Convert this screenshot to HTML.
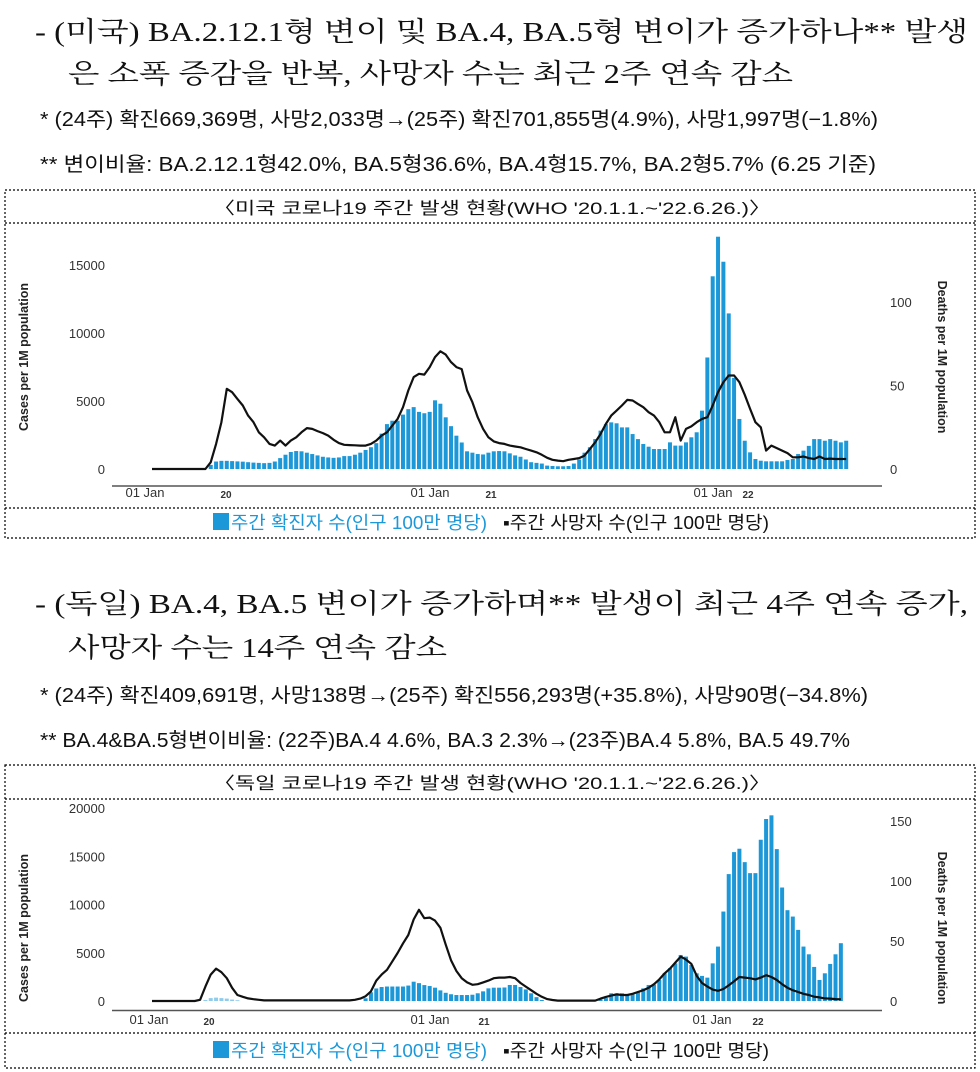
<!DOCTYPE html>
<html><head><meta charset="utf-8">
<style>
html,body{margin:0;padding:0;background:#fff;}
svg{display:block;}
.h{font-family:"Liberation Serif","Noto Serif CJK SC","Noto Sans CJK KR",serif;font-size:27px;fill:#111;}
.n{font-family:"Liberation Sans","Noto Sans CJK KR",sans-serif;font-size:20px;fill:#111;}
.ct{font-family:"Liberation Sans","Noto Sans CJK KR",sans-serif;font-size:17px;fill:#111;}
.tk{font-family:"Liberation Sans",sans-serif;font-size:13px;fill:#333;}
.yr{font-family:"Liberation Sans",sans-serif;font-size:10px;font-weight:bold;fill:#333;}
.at{font-family:"Liberation Sans",sans-serif;font-size:12.5px;font-weight:bold;fill:#222;}
.lg{font-family:"Liberation Sans","Noto Sans CJK KR",sans-serif;font-size:18px;}
</style></head>
<body>
<svg id="page" width="980" height="1072" viewBox="0 0 980 1072" xmlns="http://www.w3.org/2000/svg">
<text class="h" x="35" y="41" textLength="933" lengthAdjust="spacingAndGlyphs">- (미국) BA.2.12.1형 변이 및 BA.4, BA.5형 변이가 증가하나** 발생</text>
<text class="h" x="68" y="83" textLength="725" lengthAdjust="spacingAndGlyphs">은 소폭 증감을 반복, 사망자 수는 최근 2주 연속 감소</text>
<text class="n" x="40" y="126" textLength="838" lengthAdjust="spacingAndGlyphs">* (24주) 확진669,369명, 사망2,033명→(25주) 확진701,855명(4.9%), 사망1,997명(−1.8%)</text>
<text class="n" x="40" y="171" textLength="836" lengthAdjust="spacingAndGlyphs">** 변이비율: BA.2.12.1형42.0%, BA.5형36.6%, BA.4형15.7%, BA.2형5.7% (6.25 기준)</text>

<g id="us-chart"></g>

<text class="h" x="35" y="613" textLength="933" lengthAdjust="spacingAndGlyphs">- (독일) BA.4, BA.5 변이가 증가하며** 발생이 최근 4주 연속 증가,</text>
<text class="h" x="68" y="657" textLength="379" lengthAdjust="spacingAndGlyphs">사망자 수는 14주 연속 감소</text>
<text class="n" x="40" y="702" textLength="828" lengthAdjust="spacingAndGlyphs">* (24주) 확진409,691명, 사망138명→(25주) 확진556,293명(+35.8%), 사망90명(−34.8%)</text>
<text class="n" x="40" y="747" textLength="810" lengthAdjust="spacingAndGlyphs">** BA.4&amp;BA.5형변이비율: (22주)BA.4 4.6%, BA.3 2.3%→(23주)BA.4 5.8%, BA.5 49.7%</text>

<g id="de-chart"></g>
</svg>
<script>
// ---- data: weekly values from week of 01 Jan 2020 ----
const usCases = [0,0,0,0,0,0,0,0,0,0,0,
300,550,600,600,580,560,540,500,470,450,
430,450,550,800,1050,1250,1320,1300,1200,1100,
1000,900,850,820,850,950,950,1050,1200,1400,
1600,1900,2600,3300,3550,3550,4000,4400,4550,4200,
4100,4200,5050,4800,3800,3150,2450,1950,1300,1200,
1100,1070,1200,1300,1320,1300,1150,1000,900,700,
500,450,400,250,220,200,200,220,400,700,
1200,1600,
2200,2820,3300,3430,3360,3060,3060,2570,2200,1840,
1640,1470,1470,1470,1960,1720,1720,1960,2330,2700,
4290,8200,14170,17080,
15240,11440,6700,3680,2080,1225,735,610,565,565,
565,565,660,735,1100,1350,1700,2200,2200,2080,
2200,2080,1960,2080];
const usDeaths = [0,0,0,0,0,0,0,0,0,0,0,
4,15,28,48,46,42,38,32,28,22,
19,15,14,17,14,17,19,22,24.5,24,
22.7,21.5,20,17.5,15.5,14.5,14.3,14.2,14,14,
15,17,20,22,26,30,37,47,55,57,
56.5,61,67,70.5,68.5,64,61,59.8,47,40,
31,24,19,16.5,15.5,15,14,13.5,13,12,
11,10,8.5,6.7,5.5,5,4.7,5.5,6,6.5,
8,12,16,21,27,32,35,38,41.4,41,
39,37,34,32,28,22,22,31,17,24,
25.5,28,30,31,38,46,52,56,56,52,
44.5,36,28,25,11,14,12.5,11,9.5,7,
7,7.5,6.5,6,7.5,6,6.2,6,6,6];
const deCases = [0,0,0,0,0,0,0,0,0,0,
100,300,350,300,250,150,80,
0,0,0,0,0,0,0,0,0,0,0,0,0,0,0,0,0,0,0,0,0,0,0,
280,900,1300,1450,1500,1500,1500,1500,1600,2000,
1850,1650,1550,1380,1100,850,700,620,620,620,
650,800,1000,1310,1380,1380,1400,1660,1660,1450,
1200,800,400,100,
0,0,0,0,0,0,0,0,0,0,
150,300,800,800,800,620,690,970,1310,1660,
1700,2180,2870,3400,3900,4770,4600,3740,2870,2600,
2420,3900,5640,9270,13150,15430,15780,14390,13250,13250,
16710,18860,19240,15740,11760,9410,8750,7370,5640,4840,
3530,2180,2870,3840,4840,5990];
const deDeaths = [0,0,0,0,0,0,0,0,0,
1,12,22,27,24,19,11,5,3.5,2.2,1.5,1,
0.5,0.5,0.5,0.5,0.5,0.5,0.5,0.5,0.5,0.5,0.5,0.5,0.5,0.5,0.5,0.5,0.5,
1,2,4,8,17,22,26,33,40,48,55,68,76,69,69.5,67,61,47,34,25,19,15.5,13.5,14,15.5,17,19,19.5,19.5,20,19,15,12,9,6,3.5,1.6,0.8,0.3,
0.3,0.3,0.3,0.3,0.3,0.3,0.3,
2,3.4,4.5,5.5,5,5,6,7.5,9,11,14,18,23,27,32,37,34.5,31,21,15,12,9.5,8.5,10,13,16.5,20,19.5,19,18,19.5,21.5,20,17.5,14,11,9,7.5,6,5,3.6,3,2.2,2,1.6,1.4];
const usLeftTicks = [0,5000,10000,15000];
const usRightTicks = [0,50,100];
const deLeftTicks = [0,5000,10000,15000,20000];
const deRightTicks = [0,50,100,150];
const xDateLabels = ["01 Jan","01 Jan","01 Jan"];
const xYearLabels = ["20","21","22"];

const NS="http://www.w3.org/2000/svg";
function mk(parent,tag,attrs,text){const e=document.createElementNS(NS,tag);for(const k in attrs)e.setAttribute(k,attrs[k]);if(text!==undefined)e.textContent=text;parent.appendChild(e);return e;}

function drawChart(g,cfg){
  const xOf=i=>152+i*5.34;
  const yC=v=>cfg.y0-v*cfg.cScale;
  const yD=v=>cfg.y0-v*cfg.dScale;
  let e=mk(g,'rect',{x:5,y:cfg.top,width:970,height:cfg.bottom-cfg.top,fill:'none',stroke:'#000','stroke-width':1.2,'stroke-dasharray':'2,2'});
  
  
  [cfg.sep1,cfg.sep2].forEach(y=>{const l=mk(g,'line',{x1:5,x2:975,y1:y,y2:y,stroke:'#000','stroke-width':1.2,'stroke-dasharray':'2,2'});
    
    });
  e=mk(g,'text',{class:'ct',x:213,y:cfg.titleY,textLength:558,lengthAdjust:'spacingAndGlyphs'},cfg.title);
  
  
  cfg.cases.forEach((v,i)=>{ if(v<=0) return;
    const b=mk(g,'rect',{x:xOf(i)-2,y:yC(v),width:4,height:v*cfg.cScale,fill:(cfg.light&&i<20)?'#8fcbeb':'#1c98d8'});
    
    
  });
  const pts=cfg.deaths.map((v,i)=>xOf(i).toFixed(1)+','+yD(v).toFixed(1)).join(' ');
  e=mk(g,'polyline',{points:pts,fill:'none',stroke:'#111','stroke-width':2.2,'stroke-linejoin':'round'});
  
  
  e=mk(g,'line',{x1:112,x2:882,y1:cfg.axisY,y2:cfg.axisY,stroke:'#555','stroke-width':1.5});
  
  
  cfg.lt.forEach(t=>{const tx=mk(g,'text',{class:'tk',x:105,y:yC(t)+5,'text-anchor':'end'},String(t));
    
    });
  cfg.rt.forEach(t=>{const tx=mk(g,'text',{class:'tk',x:890,y:yD(t)+5},String(t));
    
    });
  xDateLabels.forEach((s,k)=>{const tx=mk(g,'text',{class:'tk',x:cfg.dateX[k],y:cfg.xlY,'text-anchor':'middle'},s);
    
    });
  xYearLabels.forEach((s,k)=>{const tx=mk(g,'text',{class:'yr',x:cfg.yearX[k],y:cfg.xlY+1,'text-anchor':'middle'},s);
    
    });
  e=mk(g,'text',{class:'at',x:0,y:0,'text-anchor':'middle',transform:`translate(28,${cfg.ytitleY}) rotate(-90)`},'Cases per 1M population');
  
  
  e=mk(g,'text',{class:'at',x:0,y:0,'text-anchor':'middle',transform:`translate(938,${cfg.ytitleY}) rotate(90)`},'Deaths per 1M population');
  
  
  e=mk(g,'rect',{x:213,y:cfg.legY-16,width:16,height:17,fill:'#1c98d8'});
  
  
  e=mk(g,'text',{class:'lg',x:231,y:cfg.legY,fill:'#1c98d8',textLength:256,lengthAdjust:'spacingAndGlyphs'},'주간 확진자 수(인구 100만 명당)');
  
  
  e=mk(g,'text',{class:'lg',x:503,y:cfg.legY,fill:'#111',textLength:266,lengthAdjust:'spacingAndGlyphs'},'▪주간 사망자 수(인구 100만 명당)');
  
  
}

drawChart(document.getElementById('us-chart'),{
  top:190,bottom:538,sep1:223,sep2:508,titleY:214,
  title:"〈미국 코로나19 주간 발생 현황(WHO '20.1.1.~'22.6.26.)〉",
  y0:469,cScale:68/5000,dScale:83.5/50,cases:usCases,deaths:usDeaths,
  lt:usLeftTicks,rt:usRightTicks,axisY:486,xlY:497,
  dateX:[145,430,713],yearX:[226,491,748],ytitleY:357,legY:529,light:false});
drawChart(document.getElementById('de-chart'),{
  top:765,bottom:1068,sep1:799,sep2:1033,titleY:789,
  title:"〈독일 코로나19 주간 발생 현황(WHO '20.1.1.~'22.6.26.)〉",
  y0:1001,cScale:48.25/5000,dScale:1.2,cases:deCases,deaths:deDeaths,
  lt:deLeftTicks,rt:deRightTicks,axisY:1010.5,xlY:1024,
  dateX:[149,430,712],yearX:[209,484,758],ytitleY:928,legY:1057,light:true});
</script>
</body></html>
